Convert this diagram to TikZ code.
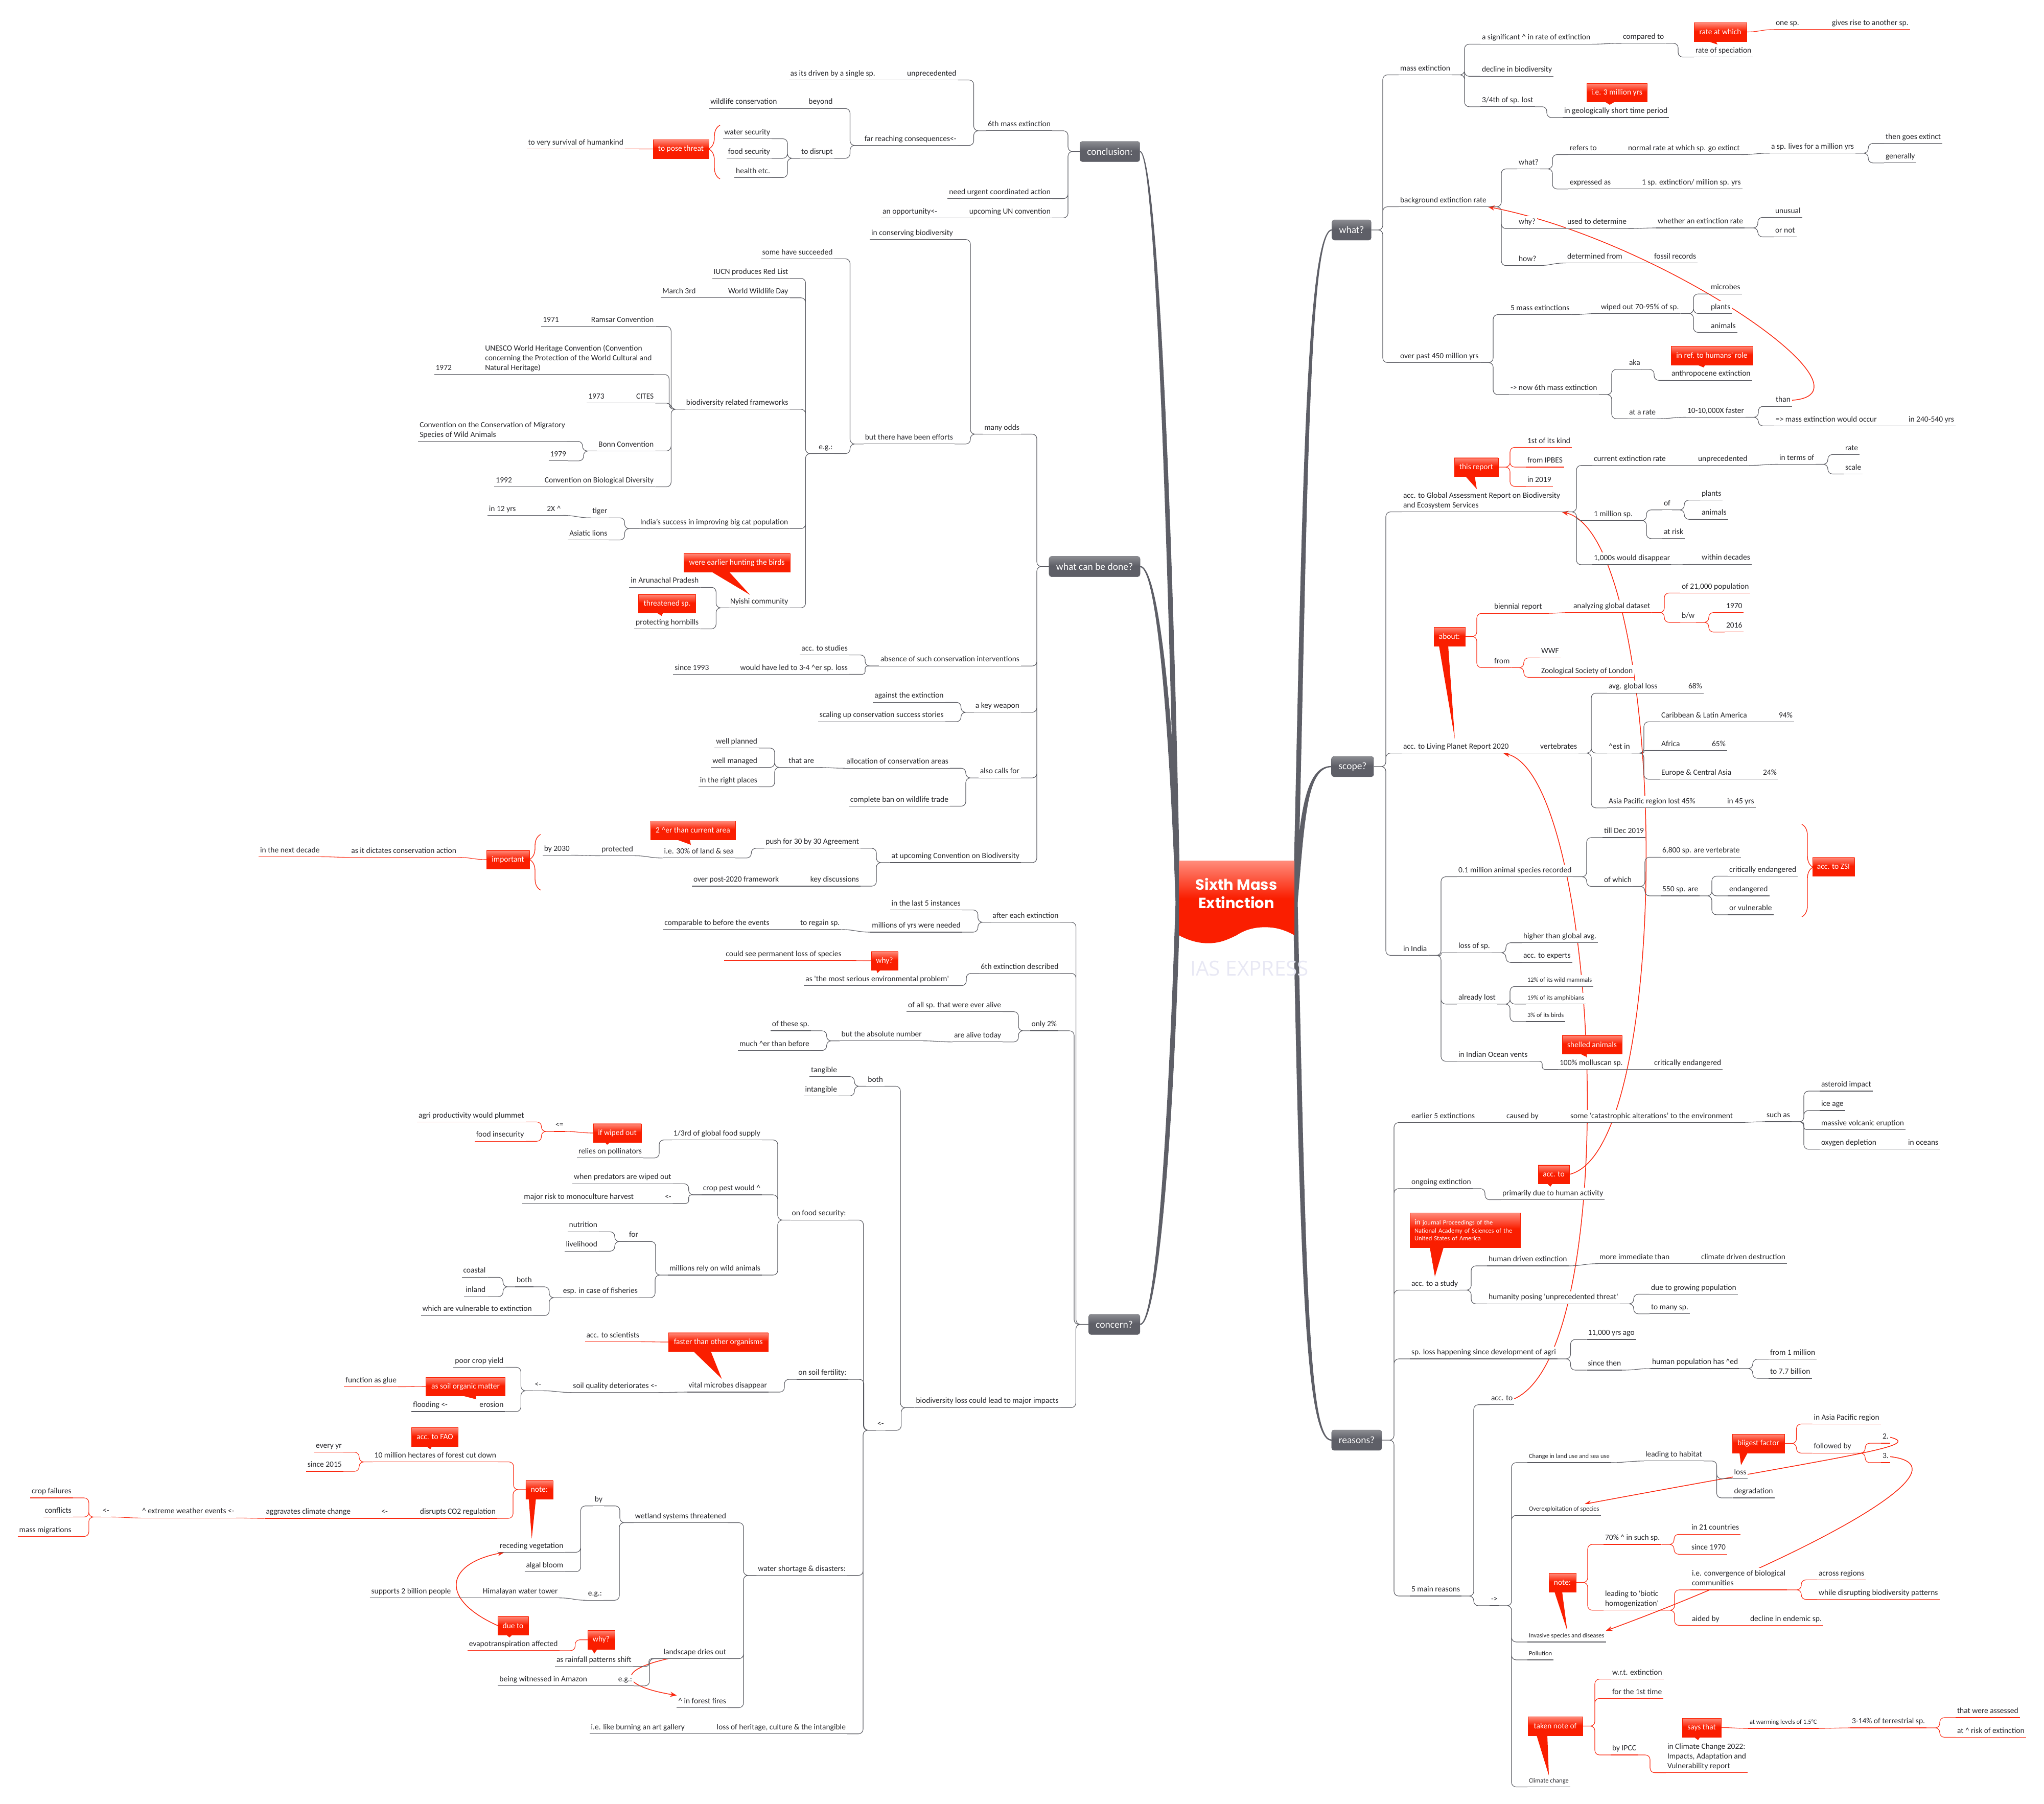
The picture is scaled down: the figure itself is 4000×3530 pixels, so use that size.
\documentclass[tikz,border=0pt]{standalone}
\usepackage{fontspec}
\setmainfont{Carlito}
\newfontfamily\titlefont{Poppins}
\newfontfamily\markfont{Open Sans}
\usetikzlibrary{calc, backgrounds, arrows.meta, decorations.pathreplacing}
\definecolor{inkcolor}{RGB}{38, 38, 42}
\definecolor{linecolor}{RGB}{88, 89, 96}
\definecolor{linered}{RGB}{250, 40, 16}
\definecolor{calloutred}{RGB}{250, 30, 0}
\definecolor{calloutlight}{RGB}{255, 140, 124}
\definecolor{boxdark}{RGB}{94, 95, 103}
\definecolor{boxlight}{RGB}{140, 141, 146}
\definecolor{markcolor}{RGB}{232, 232, 244}
\pgfdeclareverticalshading{calloutshade}{100bp}{color(0bp)=(calloutred); color(52bp)=(calloutred); color(75bp)=(calloutlight); color(100bp)=(calloutlight)}
\pgfdeclareverticalshading{boxshade}{100bp}{color(0bp)=(boxdark); color(52bp)=(boxdark); color(75bp)=(boxlight); color(100bp)=(boxlight)}
\tikzset{
    % Base styles
    topic/.style={
        fill=white, inner xsep=3pt, inner ysep=4.9pt, outer sep=0pt, text depth=3.5pt,
        align=left, text=inkcolor, font=\fontsize{15.5}{19}\selectfont
    },
    smalltext/.style={font=\fontsize{12.5}{15}\selectfont},
    % Underlined topics, right and left of the centre
    rtopic/.style={topic, anchor=south west,
        append after command={(\tikzlastnode.south west) edge[draw=linecolor, line width=1.1pt] (\tikzlastnode.south east)}},
    ltopic/.style={topic, anchor=south east,
        append after command={(\tikzlastnode.south west) edge[draw=linecolor, line width=1.1pt] (\tikzlastnode.south east)}},
    redrtopic/.style={topic, anchor=south west,
        append after command={(\tikzlastnode.south west) edge[draw=linered, line width=1.1pt] (\tikzlastnode.south east)}},
    redltopic/.style={topic, anchor=south east,
        append after command={(\tikzlastnode.south west) edge[draw=linered, line width=1.1pt] (\tikzlastnode.south east)}},
    % Boxes
    mainbox/.style={
        shading=boxshade, draw=boxdark, rounded corners=5pt, inner xsep=14pt, minimum height=40pt,
        outer sep=0pt, text=white, font=\fontsize{19.5}{23}\selectfont
    },
    callout/.style={
        shading=calloutshade, draw=calloutred, inner sep=2pt, minimum height=36.5pt,
        outer sep=0pt, text=white, font=\fontsize{15.5}{19}\selectfont
    },
    % Connectors: elbows to a trunk
    branch/.style={draw=linecolor, line width=1.1pt, rounded corners=9pt},
    redline/.style={draw=linered},
    rlink/.style={branch, to path={(\tikztostart.south east) -| ([xshift=-31pt]\tikztotarget.south west) -- (\tikztotarget.south west)}},
    llink/.style={branch, to path={(\tikztostart.south west) -| ([xshift=31pt]\tikztotarget.south east) -- (\tikztotarget.south east)}},
    rcall/.style={branch, to path={(\tikztostart.east) -| ([xshift=-31pt]\tikztotarget.south west) -- (\tikztotarget.south west)}},
    lcall/.style={branch, to path={(\tikztostart.west) -| ([xshift=31pt]\tikztotarget.south east) -- (\tikztotarget.south east)}},
    % Connectors: one child at nearly the same height
    rchain/.style={branch, to path={(\tikztostart.south east) .. controls +(25pt,0) and +(-25pt,0) .. (\tikztotarget.south west)}},
    lchain/.style={branch, to path={(\tikztostart.south west) .. controls +(-25pt,0) and +(25pt,0) .. (\tikztotarget.south east)}},
    rcallstep/.style={branch, to path={(\tikztostart.east) .. controls +(25pt,0) and +(-25pt,0) .. (\tikztotarget.south west)}},
    lcallstep/.style={branch, to path={(\tikztostart.west) .. controls +(-25pt,0) and +(25pt,0) .. (\tikztotarget.south east)}},
    relation/.style={draw=linered, line width=1.5pt, -{Stealth[length=13pt, width=10pt]}},
    bracket/.style={draw=linered, line width=1.3pt, decorate}
}
\newcommand{\calltail}[4]{\fill[calloutred] ([xshift=#2pt]#1.south west) -- ([xshift=#3pt]#1.south west) -- #4 -- cycle;}
\newcommand{\spine}[5]{\fill[boxdark] ($(#1)+(-4.5,0)$) .. controls ($(#3)+(-5.5,0)$) and ($(#4)+(-3,#5*1.6)$) .. ($(#2)+(0,#5*1.2)$) -- ($(#2)+(0,-#5*1.2)$) .. controls ($(#4)+(3,-#5*1.6)$) and ($(#3)+(5.5,0)$) .. ($(#1)+(4.5,0)$) -- cycle;}
\newcommand{\up}{\textasciicircum}
\begin{document}
\begin{tikzpicture}[x=1pt, y=-1pt]
\useasboundingbox (0,0) rectangle (4000,3530);

% ===== Centre =====
\shade[shading=calloutshade] (2307,1684) -- (2533,1684) -- (2533,1830) .. controls (2510,1817) and (2492,1814.3) .. (2475,1814.3) .. controls (2450,1814.3) and (2432,1822) .. (2420,1830) .. controls (2400,1840) and (2385,1845.7) .. (2364,1845.7) .. controls (2345,1845.7) and (2325,1840) .. (2307,1830) -- cycle;
\node (root) [text=white, align=center, font=\fontsize{29}{36.7}\selectfont\titlefont\bfseries] at (2419.5,1748) {Sixth Mass\\Extinction};
\coordinate (rootR) at (2535,1765);
\coordinate (rootL) at (2305,1764);

% ===== what? =====
\node (what) [mainbox] at (2645,450) {what?};
\node (massext) [rtopic] at (2737,146.5) {mass extinction};
\node (signif) [rtopic] at (2897,86.4) {a significant \up{} in rate of extinction};
\node (compared) [rtopic] at (3173,84.7) {compared to};
\node (speciation) [rtopic] at (3315,111.7) {rate of speciation};
\node (ratewhich) [callout, minimum width=103pt] at (3366.5,62.5) {rate at which};
\calltail{ratewhich}{27}{43}{(3361,87)}
\node (onesp) [redrtopic] at (3472,57.8) {one sp.};
\node (gives) [redrtopic] at (3582,57.8) {gives rise to another sp.};
\node (decline) [rtopic] at (2897,149.3) {decline in biodiversity};
\node (lost34) [rtopic] at (2897,208.8) {3/4th of sp. lost};
\node (geoperiod) [rtopic] at (3058,230) {in geologically short time period};
\node (threemil) [callout, minimum width=118pt] at (3164,181) {i.e. 3 million yrs};
\calltail{threemil}{36}{55}{(3150,205)}
\node (bgrate) [rtopic] at (2737,404.6) {background extinction rate};
\node (whatsub) [rtopic] at (2969,330.5) {what?};
\node (refers) [rtopic] at (3069,302.5) {refers to};
\node (normal) [rtopic] at (3183,302.5) {normal rate at which sp. go extinct};
\node (lives) [rtopic] at (3463,299.7) {a sp. lives for a million yrs};
\node (goes) [rtopic] at (3687,280.6) {then goes extinct};
\node (generally) [rtopic] at (3687,318.8) {generally};
\node (expressed) [rtopic] at (3069,369.8) {expressed as};
\node (onespext) [rtopic] at (3210,369.8) {1 sp. extinction/ million sp. yrs};
\node (whysub) [rtopic] at (2969,447.3) {why?};
\node (usedto) [rtopic] at (3064,447.3) {used to determine};
\node (whether) [rtopic] at (3241,446) {whether an extinction rate};
\node (unusual) [rtopic] at (3471,425.4) {unusual};
\node (ornot) [rtopic] at (3471,463.5) {or not};
\node (howsub) [rtopic] at (2969,519.7) {how?};
\node (detfrom) [rtopic] at (3064,514.6) {determined from};
\node (fossil) [rtopic] at (3234,514.6) {fossil records};
\node (over450) [rtopic] at (2737,709.4) {over past 450 million yrs};
\node (fivemass) [rtopic] at (2953,615.6) {5 mass extinctions};
\node (wiped) [rtopic] at (3130,613.4) {wiped out 70-95\% of sp.};
\node (microbes) [rtopic] at (3345,575.2) {microbes};
\node (plantsA) [rtopic] at (3345,613.4) {plants};
\node (animalsA) [rtopic] at (3345,650.4) {animals};
\node (nowsix) [rtopic] at (2953,772.2) {-> now 6th mass extinction};
\node (aka) [rtopic] at (3185,722.8) {aka};
\node (anthro) [rtopic] at (3268,744.2) {anthropocene extinction};
\node (humansrole) [callout, minimum width=160pt] at (3350,695.5) {in ref. to humans' role};
\calltail{humansrole}{51}{67}{(3334,719)}
\node (atrate) [rtopic] at (3185,819.4) {at a rate};
\node (faster) [rtopic] at (3299,816.5) {10-10,000X faster};
\node (than) [rtopic] at (3472,795.2) {than};
\node (massoccur) [rtopic] at (3472,833.4) {=> mass extinction would occur};
\node (in240) [rtopic] at (3732,833.4) {in 240-540 yrs};

% ===== scope? =====
\node (scope) [mainbox] at (2647,1500) {scope?};
\node (globrep) [rtopic] at (2743,1001.6) {acc. to Global Assessment Report on Biodiversity\\and Ecosystem Services};
\node (thisreport) [callout, minimum width=86pt] at (2889,914) {this report};
\calltail{thisreport}{22}{40}{(2890,957)}
\node (firstkind) [redrtopic] at (2986,875.4) {1st of its kind};
\node (ipbes) [redrtopic] at (2986,914) {from IPBES};
\node (in2019) [redrtopic] at (2986,951.7) {in 2019};
\node (current) [rtopic] at (3116,910.7) {current extinction rate};
\node (unprecA) [rtopic] at (3320,910.7) {unprecedented};
\node (interms) [rtopic] at (3479,908.5) {in terms of};
\node (rateA) [rtopic] at (3608,889.4) {rate};
\node (scaleA) [rtopic] at (3608,927.5) {scale};
\node (onemil) [rtopic] at (3116,1018.5) {1 million sp.};
\node (ofA) [rtopic] at (3253,997.7) {of};
\node (plantsB) [rtopic] at (3327,978.6) {plants};
\node (animalsB) [rtopic] at (3327,1016.2) {animals};
\node (atrisk) [rtopic] at (3253,1053.8) {at risk};
\node (thousands) [rtopic] at (3116,1105) {1,000s would disappear};
\node (decades) [rtopic] at (3327,1104.3) {within decades};
\node (living) [rtopic] at (2743,1473.6) {acc. to Living Planet Report 2020};
\node (about) [callout, minimum width=61pt] at (2836.5,1245.5) {about:};
\calltail{about}{10}{28}{(2847,1446)}
\node (biennial) [redrtopic] at (2921,1200.3) {biennial report};
\node (analyzing) [redrtopic] at (3076,1198.6) {analyzing global dataset};
\node (of21) [redrtopic] at (3288,1160.4) {of 21,000 population};
\node (bw) [redrtopic] at (3288,1217.7) {b/w};
\node (y1970) [redrtopic] at (3375,1198.6) {1970};
\node (y2016) [redrtopic] at (3375,1236.8) {2016};
\node (fromorg) [redrtopic] at (2921,1306.4) {from};
\node (wwf) [redrtopic] at (3013,1287.3) {WWF};
\node (zsl) [redrtopic] at (3013,1325.4) {Zoological Society of London};
\node (vert) [rtopic] at (3011,1473.6) {vertebrates};
\node (avgloss) [rtopic] at (3145,1356.3) {avg. global loss};
\node (p68) [rtopic] at (3301,1356.3) {68\%};
\node (estin) [rtopic] at (3145,1473.6) {\up est in};
\node (carib) [rtopic] at (3248,1412.4) {Caribbean \& Latin America};
\node (p94) [rtopic] at (3478,1412.4) {94\%};
\node (africa) [rtopic] at (3248,1468.5) {Africa};
\node (p65) [rtopic] at (3347,1468.5) {65\%};
\node (europe) [rtopic] at (3248,1524.7) {Europe \& Central Asia};
\node (p24) [rtopic] at (3447,1524.7) {24\%};
\node (asiapac) [rtopic] at (3145,1580.8) {Asia Pacific region lost 45\%};
\node (in45) [rtopic] at (3377,1580.8) {in 45 yrs};
\node (india) [rtopic] at (2743,1869.4) {in India};
\node (pointone) [rtopic] at (2851,1715.6) {0.1 million animal species recorded};
\node (tilldec) [rtopic] at (3136,1639) {till Dec 2019};
\node (ofwhich) [rtopic] at (3136,1734.5) {of which};
\node (v6800) [rtopic] at (3250,1677.3) {6,800 sp. are vertebrate};
\node (s550) [rtopic] at (3250,1753) {550 sp. are};
\node (critA) [rtopic] at (3381,1714.4) {critically endangered};
\node (endang) [rtopic] at (3381,1753) {endangered};
\node (orvuln) [rtopic] at (3381,1790) {or vulnerable};
\node (zsi) [callout, minimum width=82pt] at (3588,1696) {acc. to ZSI};
\node (lossof) [rtopic] at (2851,1864.3) {loss of sp.};
\node (higher) [rtopic] at (2978,1844.7) {higher than global avg.};
\node (experts) [rtopic] at (2978,1883.2) {acc. to experts};
\node (already) [rtopic] at (2851,1964.7) {already lost};
\node (mammals) [rtopic, smalltext] at (2986,1930.3) {12\% of its wild mammals};
\node (amphib) [rtopic, smalltext] at (2986,1964.7) {19\% of its amphibians};
\node (birds) [rtopic, smalltext] at (2986,1999) {3\% of its birds};
\node (vents) [rtopic] at (2851,2076.6) {in Indian Ocean vents};
\node (molluscan) [rtopic] at (3049,2092.7) {100\% molluscan sp.};
\node (shelled) [callout, minimum width=117pt] at (3115.5,2044) {shelled animals};
\calltail{shelled}{36}{48}{(3103,2067.5)}
\node (critB) [rtopic] at (3234,2092.7) {critically endangered};

% ===== reasons? =====
\node (reasons) [mainbox] at (2655,2818) {reasons?};
\node (earlier) [rtopic] at (2759,2196.6) {earlier 5 extinctions};
\node (causedby) [rtopic] at (2945,2196.6) {caused by};
\node (catas) [rtopic] at (3070,2196.6) {some ‘catastrophic alterations’ to the environment};
\node (suchas) [rtopic] at (3454,2195) {such as};
\node (asteroid) [rtopic] at (3561,2135) {asteroid impact};
\node (iceage) [rtopic] at (3561,2173) {ice age};
\node (volcanic) [rtopic] at (3561,2210.4) {massive volcanic eruption};
\node (oxygen) [rtopic] at (3561,2248.8) {oxygen depletion};
\node (inoceans) [rtopic] at (3731,2248.8) {in oceans};
\node (ongoing) [rtopic] at (2759,2325.8) {ongoing extinction};
\node (primarily) [rtopic] at (2937,2347.6) {primarily due to human activity};
\node (acctocall) [callout, minimum width=61pt] at (3040.5,2298) {acc. to};
\calltail{acctocall}{18}{28}{(3034,2322)}
\node (journal) [callout, minimum width=216pt, minimum height=68pt, inner xsep=9pt, align=left, font=\fontsize{12.5}{15.6}\selectfont, text width=198pt] at (2867,2407) {{\fontsize{15.5}{15.6}\selectfont in} journal Proceedings of the\\National Academy of Sciences of the\\United States of America};
\calltail{journal}{39}{66}{(2808,2498)}
\node (study) [rtopic] at (2759,2524.4) {acc. to a study};
\node (humandriven) [rtopic] at (2910,2477) {human driven extinction};
\node (immediate) [rtopic] at (3127,2472.7) {more immediate than};
\node (climdriven) [rtopic] at (3326,2472.7) {climate driven destruction};
\node (humanity) [rtopic] at (2910,2551.3) {humanity posing \textquotesingle unprecedented threat\textquotesingle};
\node (growing) [rtopic] at (3228,2532.4) {due to growing population};
\node (manysp) [rtopic] at (3228,2570.8) {to many sp.};
\node (agri) [rtopic] at (2759,2659) {sp. loss happening since development of agri};
\node (y11000) [rtopic] at (3104.5,2621) {11,000 yrs ago};
\node (sincethen) [rtopic] at (3104.5,2681) {since then};
\node (humanpop) [rtopic] at (3230,2678) {human population has \up ed};
\node (from1) [rtopic] at (3461,2659.6) {from 1 million};
\node (to77) [rtopic] at (3461,2697) {to 7.7 billion};
\node (fivemain) [rtopic] at (2759,3123) {5 main reasons};
\node (accto) [rtopic] at (2915,2748.7) {acc. to};
\node (arrowfive) [rtopic] at (2915,3142) {->};
\node (change) [rtopic, smalltext] at (2989,2862) {Change in land use and sea use};
\node (habitat) [rtopic] at (3217,2858.8) {leading to habitat};
\node (lossB) [rtopic] at (3390.5,2893.4) {loss};
\node (degrad) [rtopic] at (3390.5,2931) {degradation};
\node (bigfactor) [callout, minimum width=102pt] at (3441,2824.5) {biigest factor};
\calltail{bigfactor}{14}{30}{(3407,2867)}
\node (asiareg) [redrtopic] at (3546.5,2786.4) {in Asia Pacific region};
\node (followed) [redrtopic] at (3546.5,2843.3) {followed by};
\node (two) [redrtopic] at (3681,2824) {2.};
\node (three) [redrtopic] at (3681,2862) {3.};
\node (overex) [rtopic, smalltext] at (2989,2965.2) {Overexploitation of species};
\node (noteR) [callout, minimum width=53pt] at (3057.5,3096.5) {note:};
\calltail{noteR}{11}{26}{(3067,3191)}
\node (seventy) [redrtopic] at (3138,3022) {70\% \up{} in such sp.};
\node (in21) [redrtopic] at (3307,3002.3) {in 21 countries};
\node (since70) [redrtopic] at (3307,3041.3) {since 1970};
\node (biotic) [redrtopic] at (3138,3150.8) {leading to \textquotesingle biotic\\homogenization\textquotesingle};
\node (converge) [redrtopic] at (3308,3111) {i.e. convergence of biological\\communities};
\node (across) [redrtopic] at (3556,3091.4) {across regions};
\node (whiledis) [redrtopic] at (3556,3129.7) {while disrupting biodiversity patterns};
\node (aided) [redrtopic] at (3308,3180.5) {aided by};
\node (endemic) [redrtopic] at (3422,3180.5) {decline in endemic sp.};
\node (invasive) [rtopic, smalltext] at (2989,3213) {Invasive species and diseases};
\node (pollution) [rtopic, smalltext] at (2989,3248) {Pollution};
\node (climch) [rtopic, smalltext] at (2989,3496.6) {Climate change};
\node (taken) [callout, minimum width=107pt] at (3043.5,3377.5) {taken note of};
\calltail{taken}{17}{38}{(3031,3474)}
\node (wrt) [redrtopic] at (3152,3285.6) {w.r.t. extinction};
\node (firsttime) [redrtopic] at (3152,3323.4) {for the 1st time};
\node (ipcc) [redrtopic] at (3152,3434) {by IPCC};
\node (ccrep) [redrtopic] at (3260,3468.7) {in Climate Change 2022:\\Impacts, Adaptation and\\Vulnerability report};
\node (saysthat) [callout, minimum width=76pt] at (3330,3380.5) {says that};
\calltail{saysthat}{23}{35}{(3323,3405)}
\node (warming) [redrtopic, smalltext] at (3421,3382) {at warming levels of 1.5°C};
\node (terrest) [redrtopic] at (3621,3381) {3-14\% of terrestrial sp.};
\node (assessed) [redrtopic] at (3827,3361) {that were assessed};
\node (riskext) [redrtopic] at (3827,3399.4) {at \up{} risk of extinction};

% ===== conclusion: =====
\node (conclusion) [mainbox] at (2172,296.5) {conclusion:};
\node (sixthA) [ltopic] at (2059,255.9) {6th mass extinction};
\node (unprecB) [ltopic] at (1874.5,156.5) {unprecedented};
\node (single) [ltopic] at (1715.7,156.5) {as its driven by a single sp.};
\node (farreach) [ltopic] at (1874.5,284.6) {far reaching consequences<-};
\node (beyond) [ltopic] at (1632.5,212.4) {beyond};
\node (wildlife) [ltopic] at (1523.4,212.4) {wildlife conservation};
\node (disrupt) [ltopic] at (1632.5,309.7) {to disrupt};
\node (watersec) [ltopic] at (1510,271.5) {water security};
\node (foodsec) [ltopic] at (1510,309.7) {food security};
\node (health) [ltopic] at (1510,347.4) {health etc.};
\node (posethreat) [callout, minimum width=109pt] at (1332.5,291.5) {to pose threat};
\node (survival) [redltopic] at (1223,291.4) {to very survival of humankind};
\node (urgent) [ltopic] at (2059,388.7) {need urgent coordinated action};
\node (upcoming) [ltopic] at (2059,426.4) {upcoming UN convention};
\node (opport) [ltopic] at (1837,426.4) {an opportunity<-};

% ===== what can be done? =====
\node (done) [mainbox] at (2142,1108.6) {what can be done?};
\node (odds) [ltopic] at (1998,849.5) {many odds};
\node (inconserv) [ltopic] at (1868,468.7) {in conserving biodiversity};
\node (efforts) [ltopic] at (1868,868.8) {but there have been efforts};
\node (succeeded) [ltopic] at (1632.5,506.4) {some have succeeded};
\node (egA) [ltopic] at (1632.5,887.6) {e.g.:};
\node (iucn) [ltopic] at (1545.4,544.6) {IUCN produces Red List};
\node (wwday) [ltopic] at (1545.4,582.7) {World Wildlife Day};
\node (march) [ltopic] at (1364.6,582.7) {March 3rd};
\node (frameworks) [ltopic] at (1545.4,800.8) {biodiversity related frameworks};
\node (ramsar) [ltopic] at (1282.3,638.7) {Ramsar Convention};
\node (y1971) [ltopic] at (1096.7,638.7) {1971};
\node (unesco) [ltopic] at (1278.5,732.8) {UNESCO World Heritage Convention (Convention\\concerning the Protection of the World Cultural and\\Natural Heritage)};
\node (y1972) [ltopic] at (887,732.8) {1972};
\node (cites) [ltopic] at (1282.3,788.8) {CITES};
\node (y1973) [ltopic] at (1185.7,788.8) {1973};
\node (bonn) [ltopic] at (1282.3,882.4) {Bonn Convention};
\node (migratory) [ltopic] at (1109,863.6) {Convention on the Conservation of Migratory\\Species of Wild Animals};
\node (y1979) [ltopic] at (1111,901.8) {1979};
\node (cbd) [ltopic] at (1282.3,952.6) {Convention on Biological Diversity};
\node (y1992) [ltopic] at (1004.9,952.6) {1992};
\node (indias) [ltopic] at (1545.4,1034.4) {India's success in improving big cat population};
\node (tiger) [ltopic] at (1191.4,1013.3) {tiger};
\node (twox) [ltopic] at (1100.5,1008.4) {2X \up};
\node (in12) [ltopic] at (1012.5,1008.4) {in 12 yrs};
\node (lions) [ltopic] at (1191.4,1056.6) {Asiatic lions};
\node (nyishi) [ltopic] at (1545.4,1189.4) {Nyishi community};
\node (hunting) [callout, minimum width=208pt] at (1442,1101) {were earlier hunting the birds};
\calltail{hunting}{55}{89}{(1467.8,1164)}
\node (arunachal) [ltopic] at (1370.3,1149.3) {in Arunachal Pradesh};
\node (hornbills) [ltopic] at (1370.3,1230.6) {protecting hornbills};
\node (threatened) [callout, minimum width=112pt] at (1305.6,1181) {threatened sp.};
\calltail{threatened}{36}{48}{(1294.6,1205)}
\node (absence) [ltopic] at (1998,1303.2) {absence of such conservation interventions};
\node (studies) [ltopic] at (1662,1281.6) {acc. to studies};
\node (ledto) [ltopic] at (1662,1319.5) {would have led to 3-4 \up er sp. loss};
\node (since93) [ltopic] at (1390.4,1319.5) {since 1993};
\node (weapon) [ltopic] at (1998,1393.8) {a key weapon};
\node (against) [ltopic] at (1849.6,1374.3) {against the extinction};
\node (scaling) [ltopic] at (1849.6,1412.2) {scaling up conservation success stories};
\node (calls) [ltopic] at (1998,1522.2) {also calls for};
\node (alloc) [ltopic] at (1859,1503.2) {allocation of conservation areas};
\node (thatare) [ltopic] at (1596,1501.6) {that are};
\node (planned) [ltopic] at (1485,1463.7) {well planned};
\node (managed) [ltopic] at (1485,1501.6) {well managed};
\node (rightpl) [ltopic] at (1485,1539.6) {in the right places};
\node (ban) [ltopic] at (1859,1577.5) {complete ban on wildlife trade};
\node (atconv) [ltopic] at (1998,1688) {at upcoming Convention on Biodiversity};
\node (push) [ltopic] at (1684,1659.9) {push for 30 by 30 Agreement};
\node (thirty) [ltopic] at (1439.2,1678.9) {i.e. 30\% of land \& sea};
\node (curarea) [callout, minimum width=166.4pt] at (1356,1624.5) {2 \up er than current area};
\calltail{curarea}{51}{77}{(1352,1653)}
\node (protected) [ltopic] at (1242,1674.5) {protected};
\node (by2030) [ltopic] at (1117.8,1673.4) {by 2030};
\node (important) [callout, minimum width=84pt] at (994,1682) {important};
\node (dictates) [redltopic] at (896,1677.6) {as it dictates conservation action};
\node (nextdec) [redltopic] at (628.5,1676.5) {in the next decade};
\node (keydisc) [ltopic] at (1684,1734) {key discussions};
\node (post2020) [ltopic] at (1527,1734) {over post-2020 framework};

% ===== concern? =====
\node (concern) [mainbox] at (2180.6,2591.5) {concern?};
\node (aftereach) [ltopic] at (2074.6,1804.6) {after each extinction};
\node (last5) [ltopic] at (1882.7,1780.6) {in the last 5 instances};
\node (millyrs) [ltopic] at (1882.7,1824) {millions of yrs were needed};
\node (regain) [ltopic] at (1646.4,1818.9) {to regain sp.};
\node (comparable) [ltopic] at (1508.7,1818.9) {comparable to before the events};
\node (sixthdesc) [ltopic] at (2074.6,1904.6) {6th extinction described};
\node (serious) [ltopic] at (1860,1928.6) {as \textquotesingle the most serious environmental problem\textquotesingle};
\node (whyA) [callout, minimum width=52pt] at (1731,1880) {why?};
\calltail{whyA}{10}{18}{(1717,1904)}
\node (permanent) [redltopic] at (1649.6,1879.6) {could see permanent loss of species};
\node (only2) [ltopic] at (2071,2017) {only 2\%};
\node (everalive) [ltopic] at (1962,1979.6) {of all sp. that were ever alive};
\node (alivetoday) [ltopic] at (1962,2038.8) {are alive today};
\node (absolute) [ltopic] at (1806.8,2036.7) {but the absolute number};
\node (ofthese) [ltopic] at (1586.7,2017) {of these sp.};
\node (muchmore) [ltopic] at (1586.7,2055.6) {much \up er than before};
\node (bioloss) [ltopic] at (2074.4,2754.3) {biodiversity loss could lead to major impacts};
\node (bothA) [ltopic] at (1731,2125.5) {both};
\node (tangible) [ltopic] at (1641,2106.6) {tangible};
\node (intangible) [ltopic] at (1641,2144.4) {intangible};
\node (arrowA) [ltopic] at (1732.6,2798.7) {<-};
\node (onfood) [ltopic] at (1658.6,2387.3) {on food security:};
\node (onethird) [ltopic] at (1491,2230.6) {1/3rd of global food supply};
\node (relies) [ltopic] at (1259,2265.8) {relies on pollinators};
\node (ifwiped) [callout, minimum width=94pt] at (1208,2217) {if wiped out};
\calltail{ifwiped}{23}{33}{(1188,2240)}
\node (implies) [redltopic] at (1105.5,2214) {<=};
\node (agriprod) [redltopic] at (1028.5,2195.4) {agri productivity would plummet};
\node (foodinsec) [redltopic] at (1028.5,2233.2) {food insecurity};
\node (croppest) [ltopic] at (1491,2338) {crop pest would \up};
\node (predators) [ltopic] at (1316.7,2316.3) {when predators are wiped out};
\node (arrowB) [ltopic] at (1316.7,2354.7) {<-};
\node (monocult) [ltopic] at (1243,2354.7) {major risk to monoculture harvest};
\node (millrely) [ltopic] at (1491,2495) {millions rely on wild animals};
\node (forlife) [ltopic] at (1252,2429.3) {for};
\node (nutrition) [ltopic] at (1172,2410.3) {nutrition};
\node (livelihood) [ltopic] at (1172,2448.3) {livelihood};
\node (fisheries) [ltopic] at (1251,2539.3) {esp. in case of fisheries};
\node (bothB) [ltopic] at (1043.7,2518) {both};
\node (coastal) [ltopic] at (953.4,2499.3) {coastal};
\node (inland) [ltopic] at (953.4,2537.3) {inland};
\node (vulnerable) [ltopic] at (1043.7,2574.3) {which are vulnerable to extinction};
\node (onsoil) [ltopic] at (1659.6,2699) {on soil fertility:};
\node (vital) [ltopic] at (1504,2724) {vital microbes disappear};
\node (fasterorg) [callout, minimum width=195.5pt] at (1405.7,2626) {faster than other organisms};
\calltail{fasterorg}{49}{83}{(1412.5,2698)}
\node (scientists) [redltopic] at (1254,2625.5) {acc. to scientists};
\node (soilq) [ltopic] at (1288.6,2724.7) {soil quality deteriorates <-};
\node (arrowC) [ltopic] at (1062,2721.4) {<-};
\node (poor) [ltopic] at (988.4,2675.4) {poor crop yield};
\node (erosion) [ltopic] at (988.4,2762) {erosion};
\node (flooding) [ltopic] at (879,2762) {flooding <-};
\node (organic) [callout, minimum width=155pt] at (911,2713) {as soil organic matter};
\calltail{organic}{72}{98}{(932,2738)}
\node (glue) [redltopic] at (779,2713.5) {function as glue};
\node (watershort) [ltopic] at (1658,3082.7) {water shortage \& disasters:};
\node (wetland) [ltopic] at (1424,2979.5) {wetland systems threatened};
\node (bywet) [ltopic] at (1182,2946.7) {by};
\node (receding) [ltopic] at (1105.4,3037.4) {receding vegetation};
\node (algal) [ltopic] at (1105.4,3075.4) {algal bloom};
\node (egB) [ltopic] at (1181,3131.3) {e.g.:};
\node (himalayan) [ltopic] at (1094.6,3126.7) {Himalayan water tower};
\node (supports) [ltopic] at (885.4,3126.7) {supports 2 billion people};
\node (dueto) [callout, minimum width=59.5pt] at (1004,3181) {due to};
\calltail{dueto}{17}{28}{(997,3204)}
\node (evapo) [redltopic] at (1094.6,3229.8) {evapotranspiration affected};
\node (whyB) [callout, minimum width=53pt] at (1176.5,3208.7) {why?};
\calltail{whyB}{8}{19}{(1163,3235.7)}
\node (landscape) [ltopic] at (1424,3245.6) {landscape dries out};
\node (rainfall) [ltopic] at (1238.8,3260.7) {as rainfall patterns shift};
\node (egC) [ltopic] at (1240,3298.8) {e.g.:};
\node (amazon) [ltopic] at (1152,3298.8) {being witnessed in Amazon};
\node (forestfires) [ltopic] at (1424,3341.5) {\up{} in forest fires};
\node (heritage) [ltopic] at (1658,3392.7) {loss of heritage, culture \& the intangible};
\node (gallery) [ltopic] at (1343,3392.7) {i.e. like burning an art gallery};
\node (noteL) [callout, minimum width=53.3pt] at (1055.4,2915) {note:};
\calltail{noteL}{6}{20}{(1040.6,3011)}
\node (fao) [callout, minimum width=91pt] at (851,2811.7) {acc. to FAO};
\calltail{fao}{29}{40}{(842,2835.7)}
\node (tenmill) [redltopic] at (974,2860.6) {10 million hectares of forest cut down};
\node (everyyr) [redltopic] at (671.8,2841.6) {every yr};
\node (since2015) [redltopic] at (671.8,2879) {since 2015};
\node (co2) [redltopic] at (973,2971) {disrupts CO2 regulation};
\node (arrowD) [redltopic] at (761.8,2971) {<-};
\node (aggrav) [redltopic] at (689,2971) {aggravates climate change};
\node (extreme) [redltopic] at (461.5,2970.3) {\up{} extreme weather events <-};
\node (arrowE) [redltopic] at (216.5,2968.4) {<-};
\node (cropfail) [redltopic] at (142.8,2931) {crop failures};
\node (conflicts) [redltopic] at (142.8,2968.4) {conflicts};
\node (massmig) [redltopic] at (142.8,3006.5) {mass migrations};

% Watermark
\node (watermark) [text=markcolor, font=\fontsize{40.5}{44}\selectfont\markfont] at (2445,1895) {IAS EXPRESS};

% ===== Everything that joins the nodes =====
\begin{scope}[on background layer]
    % Spines from the centre
    \spine{rootR}{what.west}{2552,1100}{2555,450}{-1}
    \spine{rootR}{scope.west}{2548,1600}{2555,1500}{-1}
    \spine{rootR}{reasons.west}{2550,2500}{2558,2818}{1}
    \spine{rootL}{conclusion.east}{2290,1000}{2262,296.5}{1}
    \spine{rootL}{done.east}{2295,1450}{2268,1108.6}{1}
    \spine{rootL}{concern.east}{2292,2200}{2265,2591.5}{-1}

    % Relationship curves
    \draw[relation] (than.east) .. controls (3690,770) and (3250,470) .. (bgrate.south east);
    \draw[relation] (acctocall.east) .. controls (3280,2250) and (3265,1050) .. (globrep.south east);
    \draw[relation] (accto.east) .. controls (3180,2640) and (3130,1520) .. ([xshift=-14pt]living.south east);
    \draw[relation] (two.east) .. controls (3770,2830) and (3600,2850) .. ([xshift=-32pt]overex.north east);
    \draw[relation] (three.east) .. controls (3870,2870) and (3500,3060) .. (invasive.north east);
    \draw[relation] (dueto.west) .. controls (860,3130) and (870,3060) .. ([xshift=12pt]receding.south west);
    \draw[relation] ([xshift=12pt]landscape.south west) .. controls (1200,3270) and (1220,3300) .. (forestfires.north west);

    % Brackets
    \draw[bracket, decoration={brace, amplitude=22pt, aspect=.557}] (1409,350) -- (1409,245);
    \draw[bracket, decoration={brace, amplitude=22pt, aspect=.55}] (1058,1741.7) -- (1058,1632.8);
    \draw[bracket, decoration={brace, amplitude=22pt, aspect=.464}] (3526,1613) -- (3526,1794);

    % what?
    \draw[rcall] (what) to (massext) (what) to (bgrate) (what) to (over450);
    \draw[rlink] (massext) to (signif) (massext) to (decline) (massext) to (lost34);
    \draw[rchain] (signif) to (compared);
    \draw[rlink] (compared) to (speciation);
    \draw[rcallstep, redline] (ratewhich) to (onesp);
    \draw[rchain, redline] (onesp) to (gives);
    \draw[rlink] (lost34) to (geoperiod);
    \draw[rlink] (bgrate) to (whatsub) (bgrate) to (whysub) (bgrate) to (howsub);
    \draw[rlink] (whatsub) to (refers) (whatsub) to (expressed);
    \draw[rchain] (refers) to (normal);
    \draw[rchain] (normal) to (lives);
    \draw[rlink] (lives) to (goes) (lives) to (generally);
    \draw[rchain] (expressed) to (onespext);
    \draw[rchain] (whysub) to (usedto);
    \draw[rchain] (usedto) to (whether);
    \draw[rlink] (whether) to (unusual) (whether) to (ornot);
    \draw[rchain] (howsub) to (detfrom);
    \draw[rchain] (detfrom) to (fossil);
    \draw[rlink] (over450) to (fivemass) (over450) to (nowsix);
    \draw[rchain] (fivemass) to (wiped);
    \draw[rlink] (wiped) to (microbes) (wiped) to (plantsA) (wiped) to (animalsA);
    \draw[rlink] (nowsix) to (aka) (nowsix) to (atrate);
    \draw[rlink] (aka) to (anthro);
    \draw[rchain] (atrate) to (faster);
    \draw[rlink] (faster) to (than) (faster) to (massoccur);
    \draw[rchain] (massoccur) to (in240);

    % scope?
    \draw[rcall] (scope) to (globrep) (scope) to (living) (scope) to (india);
    \draw[rcall, redline] (thisreport) to (firstkind) (thisreport) to (ipbes) (thisreport) to (in2019);
    \draw[rlink] (globrep) to (current) (globrep) to (onemil) (globrep) to (thousands);
    \draw[rchain] (current) to (unprecA);
    \draw[rchain] (unprecA) to (interms);
    \draw[rlink] (interms) to (rateA) (interms) to (scaleA);
    \draw[rlink] (onemil) to (ofA) (onemil) to (atrisk);
    \draw[rlink] (ofA) to (plantsB) (ofA) to (animalsB);
    \draw[rchain] (thousands) to (decades);
    \draw[rcall, redline] (about) to (biennial) (about) to (fromorg);
    \draw[rchain, redline] (biennial) to (analyzing);
    \draw[rlink, redline] (analyzing) to (of21) (analyzing) to (bw);
    \draw[rlink, redline] (bw) to (y1970) (bw) to (y2016);
    \draw[rlink, redline] (fromorg) to (wwf) (fromorg) to (zsl);
    \draw[rchain] (living) to (vert);
    \draw[rlink] (vert) to (avgloss) (vert) to (estin) (vert) to (asiapac);
    \draw[rchain] (avgloss) to (p68);
    \draw[rlink] (estin) to (carib) (estin) to (europe);
    \draw[rlink, rounded corners=2pt] (estin) to (africa);
    \draw[rchain] (carib) to (p94);
    \draw[rchain] (africa) to (p65);
    \draw[rchain] (europe) to (p24);
    \draw[rchain] (asiapac) to (in45);
    \draw[rlink] (india) to (pointone) (india) to (already) (india) to (vents);
    \draw[rlink, rounded corners=2pt] (india) to (lossof);
    \draw[rlink] (pointone) to (tilldec) (pointone) to (ofwhich);
    \draw[rlink] (ofwhich) to (v6800) (ofwhich) to (s550);
    \draw[rlink] (s550) to (critA) (s550) to (endang) (s550) to (orvuln);
    \draw[rlink] (lossof) to (higher) (lossof) to (experts);
    \draw[rlink] (already) to (mammals) (already) to (amphib) (already) to (birds);
    \draw[rlink, rounded corners=5pt] (vents) to (molluscan);
    \draw[rchain] (molluscan) to (critB);

    % reasons?
    \draw[rcall] (reasons) to (earlier) (reasons) to (ongoing) (reasons) to (study) (reasons) to (agri) (reasons) to (fivemain);
    \draw[rchain] (earlier) to (causedby);
    \draw[rchain] (causedby) to (catas);
    \draw[rchain] (catas) to (suchas);
    \draw[rlink] (suchas) to (asteroid) (suchas) to (iceage) (suchas) to (oxygen);
    \draw[rlink, rounded corners=5pt] (suchas) to (volcanic);
    \draw[rchain] (oxygen) to (inoceans);
    \draw[rlink] (ongoing) to (primarily);
    \draw[rlink] (study) to (humandriven) (study) to (humanity);
    \draw[rchain] (humandriven) to (immediate);
    \draw[rchain] (immediate) to (climdriven);
    \draw[rlink] (humanity) to (growing) (humanity) to (manysp);
    \draw[rlink] (agri) to (y11000) (agri) to (sincethen);
    \draw[rchain] (sincethen) to (humanpop);
    \draw[rlink] (humanpop) to (from1) (humanpop) to (to77);
    \draw[rlink] (fivemain) to (accto) (fivemain) to (arrowfive);
    \draw[rlink] (arrowfive) to (change) (arrowfive) to (overex) (arrowfive) to (invasive) (arrowfive) to (pollution) (arrowfive) to (climch);
    \draw[rchain] (change) to (habitat);
    \draw[rlink] (habitat) to (lossB) (habitat) to (degrad);
    \draw[rcall, redline] (bigfactor) to (asiareg) (bigfactor) to (followed);
    \draw[rlink, redline] (followed) to (two) (followed) to (three);
    \draw[rcall, redline] (noteR) to (seventy) (noteR) to (biotic);
    \draw[rlink, redline] (seventy) to (in21) (seventy) to (since70);
    \draw[rlink, redline] (biotic) to (converge) (biotic) to (aided);
    \draw[rlink, redline] (converge) to (across) (converge) to (whiledis);
    \draw[rchain, redline] (aided) to (endemic);
    \draw[rcall, redline] (taken) to (wrt) (taken) to (firsttime) (taken) to (ipcc);
    \draw[rlink, redline] (ipcc) to (ccrep);
    \draw[rcallstep, redline] (saysthat) to (warming);
    \draw[rchain, redline] (warming) to (terrest);
    \draw[rlink, redline] (terrest) to (assessed) (terrest) to (riskext);

    % conclusion:
    \draw[lcall] (conclusion) to (sixthA) (conclusion) to (urgent) (conclusion) to (upcoming);
    \draw[llink] (sixthA) to (unprecB) (sixthA) to (farreach);
    \draw[lchain] (unprecB) to (single);
    \draw[llink] (farreach) to (beyond) (farreach) to (disrupt);
    \draw[lchain] (beyond) to (wildlife);
    \draw[llink] (disrupt) to (watersec) (disrupt) to (foodsec) (disrupt) to (health);
    \draw[lcallstep, redline] (posethreat) to (survival);
    \draw[lchain] (upcoming) to (opport);

    % what can be done?
    \draw[lcall] (done) to (odds) (done) to (absence) (done) to (weapon) (done) to (calls) (done) to (atconv);
    \draw[llink] (odds) to (inconserv) (odds) to (efforts);
    \draw[llink] (efforts) to (succeeded) (efforts) to (egA);
    \draw[llink] (egA) to (iucn) (egA) to (wwday) (egA) to (frameworks) (egA) to (indias) (egA) to (nyishi);
    \draw[lchain] (wwday) to (march);
    \draw[llink] (frameworks) to (ramsar) (frameworks) to (unesco) (frameworks) to (cites) (frameworks) to (bonn) (frameworks) to (cbd);
    \draw[lchain] (ramsar) to (y1971);
    \draw[lchain] (unesco) to (y1972);
    \draw[lchain] (cites) to (y1973);
    \draw[llink] (bonn) to (migratory) (bonn) to (y1979);
    \draw[lchain] (cbd) to (y1992);
    \draw[llink] (indias) to (tiger) (indias) to (lions);
    \draw[lchain] (tiger) to (twox);
    \draw[lchain] (twox) to (in12);
    \draw[llink] (nyishi) to (arunachal) (nyishi) to (hornbills);
    \draw[llink] (absence) to (studies);
    \draw[llink, rounded corners=5pt] (absence) to (ledto);
    \draw[lchain] (ledto) to (since93);
    \draw[llink] (weapon) to (against) (weapon) to (scaling);
    \draw[llink] (calls) to (alloc) (calls) to (ban);
    \draw[lchain] (alloc) to (thatare);
    \draw[llink] (thatare) to (planned) (thatare) to (managed) (thatare) to (rightpl);
    \draw[llink] (atconv) to (push) (atconv) to (keydisc);
    \draw[llink] (push) to (thirty);
    \draw[lchain] (thirty) to (protected);
    \draw[lchain] (protected) to (by2030);
    \draw[lchain] (keydisc) to (post2020);
    \draw[lcallstep, redline] (important) to (dictates);
    \draw[lchain, redline] (dictates) to (nextdec);

    % concern?
    \draw[lcall] (concern) to (aftereach) (concern) to (sixthdesc) (concern) to (only2) (concern) to (bioloss);
    \draw[llink] (aftereach) to (last5) (aftereach) to (millyrs);
    \draw[lchain] (millyrs) to (regain);
    \draw[lchain] (regain) to (comparable);
    \draw[llink] (sixthdesc) to (serious);
    \draw[lcallstep, redline] (whyA) to (permanent);
    \draw[llink] (only2) to (everalive) (only2) to (alivetoday);
    \draw[lchain] (alivetoday) to (absolute);
    \draw[llink] (absolute) to (ofthese) (absolute) to (muchmore);
    \draw[llink] (bioloss) to (bothA) (bioloss) to (arrowA);
    \draw[llink] (bothA) to (tangible) (bothA) to (intangible);
    \draw[llink] (arrowA) to (onfood) (arrowA) to (onsoil) (arrowA) to (watershort) (arrowA) to (heritage);
    \draw[llink] (onfood) to (onethird) (onfood) to (croppest) (onfood) to (millrely);
    \draw[llink] (onethird) to (relies);
    \draw[lcallstep, redline] (ifwiped) to (implies);
    \draw[llink, redline] (implies) to (agriprod) (implies) to (foodinsec);
    \draw[llink] (croppest) to (predators);
    \draw[llink, rounded corners=5pt] (croppest) to (arrowB);
    \draw[lchain] (arrowB) to (monocult);
    \draw[llink] (millrely) to (forlife) (millrely) to (fisheries);
    \draw[llink] (forlife) to (nutrition) (forlife) to (livelihood);
    \draw[llink] (fisheries) to (bothB) (fisheries) to (vulnerable);
    \draw[llink] (bothB) to (coastal) (bothB) to (inland);
    \draw[llink] (onsoil) to (vital);
    \draw[lcallstep, redline] (fasterorg) to (scientists);
    \draw[lchain] (vital) to (soilq);
    \draw[lchain] (soilq) to (arrowC);
    \draw[llink] (arrowC) to (poor) (arrowC) to (erosion);
    \draw[lchain] (erosion) to (flooding);
    \draw[lcallstep, redline] (organic) to (glue);
    \draw[llink] (watershort) to (wetland) (watershort) to (landscape) (watershort) to (forestfires);
    \draw[llink] (wetland) to (bywet) (wetland) to (egB);
    \draw[llink] (bywet) to (receding) (bywet) to (algal);
    \draw[lchain] (egB) to (himalayan);
    \draw[lchain] (himalayan) to (supports);
    \draw[lcall, redline] (whyB) to (evapo);
    \draw[llink, rounded corners=5pt] (landscape) to (rainfall);
    \draw[llink] (landscape) to (egC);
    \draw[lchain] (egC) to (amazon);
    \draw[lchain] (heritage) to (gallery);
    \draw[lcall, redline] (noteL) to (tenmill) (noteL) to (co2);
    \draw[llink, redline] (tenmill) to (everyyr) (tenmill) to (since2015);
    \draw[lchain, redline] (co2) to (arrowD);
    \draw[lchain, redline] (arrowD) to (aggrav);
    \draw[lchain, redline] (aggrav) to (extreme);
    \draw[lchain, redline] (extreme) to (arrowE);
    \draw[llink, redline] (arrowE) to (cropfail) (arrowE) to (conflicts) (arrowE) to (massmig);
\end{scope}

\end{tikzpicture}
\end{document}
